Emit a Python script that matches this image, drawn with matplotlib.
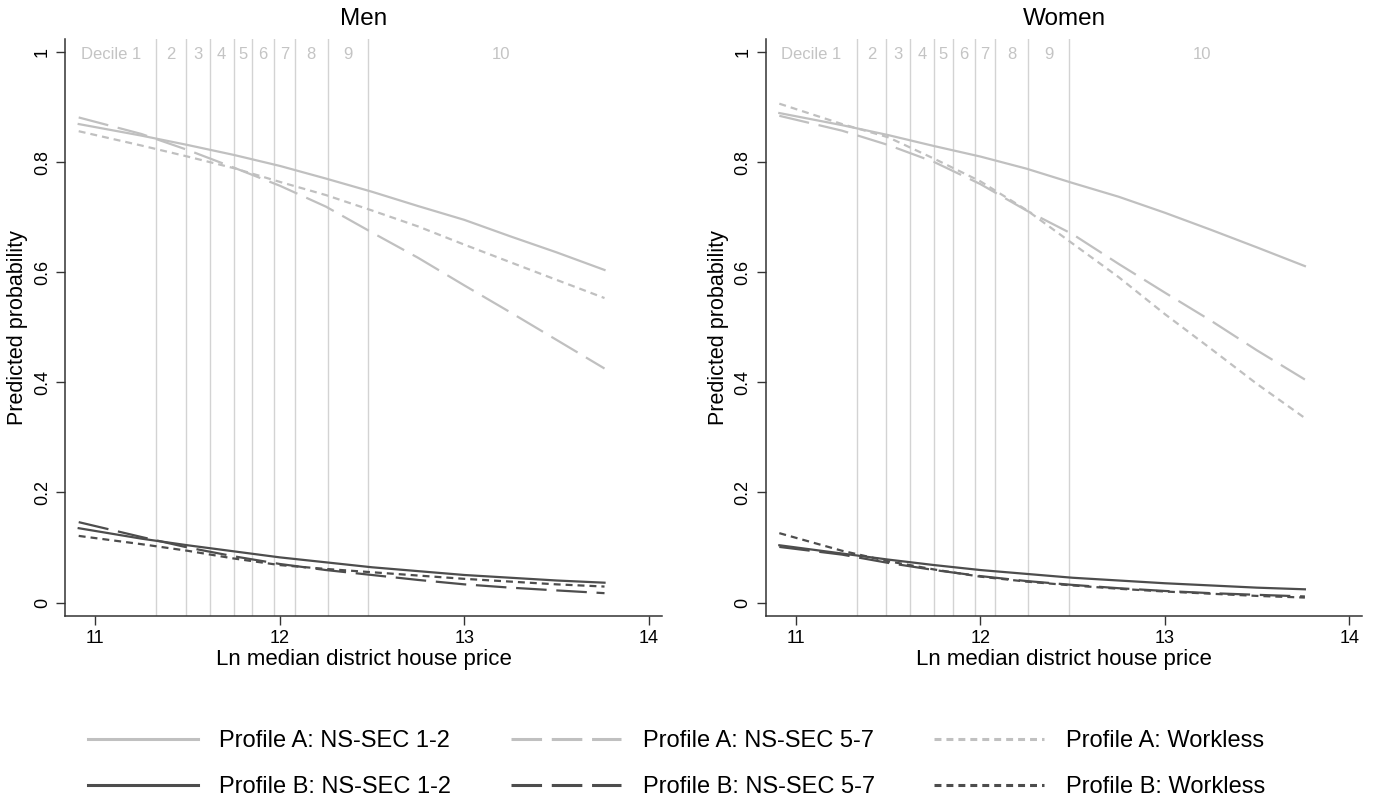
import matplotlib
matplotlib.use("Agg")
import matplotlib.pyplot as plt
from matplotlib.lines import Line2D

plt.rcParams['font.family'] = ['Liberation Sans', 'DejaVu Sans']
plt.rcParams['lines.scale_dashes'] = False

# ---- data ----
x_grid = [10.91, 11.25, 11.5, 11.75, 12.0, 12.25, 12.5, 12.75, 13.0, 13.25, 13.5, 13.76]

men_A_ns12 = [0.869, 0.848, 0.831, 0.813, 0.793, 0.770, 0.746, 0.720, 0.695, 0.665, 0.636, 0.604]
men_A_ns57 = [0.881, 0.851, 0.822, 0.790, 0.757, 0.719, 0.672, 0.626, 0.576, 0.527, 0.477, 0.425]
men_A_workless = [0.856, 0.830, 0.810, 0.789, 0.764, 0.740, 0.712, 0.683, 0.650, 0.618, 0.586, 0.553]
men_B_ns12 = [0.135, 0.116, 0.104, 0.093, 0.082, 0.073, 0.064, 0.057, 0.050, 0.045, 0.040, 0.036]
men_B_ns57 = [0.146, 0.119, 0.100, 0.084, 0.070, 0.059, 0.050, 0.041, 0.033, 0.027, 0.022, 0.017]
men_B_workless = [0.121, 0.106, 0.094, 0.080, 0.068, 0.061, 0.055, 0.049, 0.043, 0.038, 0.033, 0.029]

women_A_ns12 = [0.889, 0.867, 0.849, 0.829, 0.810, 0.788, 0.762, 0.737, 0.708, 0.677, 0.645, 0.611]
women_A_ns57 = [0.884, 0.857, 0.831, 0.800, 0.760, 0.712, 0.669, 0.615, 0.563, 0.512, 0.458, 0.405]
women_A_workless = [0.906, 0.869, 0.845, 0.806, 0.765, 0.713, 0.652, 0.591, 0.524, 0.461, 0.397, 0.335]
women_B_ns12 = [0.104, 0.089, 0.078, 0.068, 0.059, 0.052, 0.045, 0.040, 0.035, 0.031, 0.027, 0.024]
women_B_ns57 = [0.101, 0.087, 0.072, 0.059, 0.048, 0.039, 0.032, 0.026, 0.021, 0.017, 0.014, 0.011]
women_B_workless = [0.126, 0.094, 0.075, 0.060, 0.047, 0.038, 0.031, 0.025, 0.020, 0.016, 0.012, 0.009]

decile_bounds = [11.33, 11.49, 11.62, 11.75, 11.85, 11.97, 12.08, 12.26, 12.48]
decile_labels = ["Decile 1", "2", "3", "4", "5", "6", "7", "8", "9", "10"]
decile_label_x = [11.085, 11.41, 11.555, 11.685, 11.80, 11.91, 12.025, 12.17, 12.37, 13.20]

x_ticks = [11, 12, 13, 14]
y_ticks = [0, 0.2, 0.4, 0.6, 0.8, 1]
y_tick_labels = ["0", "0.2", "0.4", "0.6", "0.8", "1"]

legend_labels = ["Profile A: NS-SEC 1-2", "Profile B: NS-SEC 1-2",
                 "Profile A: NS-SEC 5-7", "Profile B: NS-SEC 5-7",
                 "Profile A: Workless", "Profile B: Workless"]

# ---- styles ----
LIGHT = "#c0c0c0"
DARK = "#4d4d4d"
LW = 1.6
LONG = (0, (22, 7))
SHORT = (0, (5, 3.6))

fig = plt.figure(figsize=(13.8, 7.98), dpi=100)
ax_m = fig.add_axes([0.0474, 0.2284, 0.4321, 0.7224])
ax_w = fig.add_axes([0.5551, 0.2284, 0.4319, 0.7224])

panels = [
    (ax_m, "Men", [men_A_ns12, men_A_ns57, men_A_workless], [men_B_ns12, men_B_ns57, men_B_workless]),
    (ax_w, "Women", [women_A_ns12, women_A_ns57, women_A_workless], [women_B_ns12, women_B_ns57, women_B_workless]),
]

styles = ['-', LONG, SHORT]

for ax, title, A, B in panels:
    for xb in decile_bounds:
        ax.axvline(xb, color="#d3d3d3", lw=1.0, zorder=1)
    for lab, lx in zip(decile_labels, decile_label_x):
        ax.text(lx, 0.995, lab, color="#c4c4c4", fontsize=12, ha="center", va="center", zorder=2)
    for ser, st in zip(A, styles):
        ax.plot(x_grid, ser, color=LIGHT, lw=LW, linestyle=st, zorder=3)
    for ser, st in zip(B, styles):
        ax.plot(x_grid, ser, color=DARK, lw=LW, linestyle=st, zorder=3)
    ax.set_xlim(10.838, 14.07)
    ax.set_ylim(-0.024, 1.023)
    ax.set_xticks(x_ticks)
    ax.set_xticklabels([str(t) for t in x_ticks])
    ax.set_yticks(y_ticks)
    ax.set_yticklabels(y_tick_labels, rotation=90, va="center")
    ax.spines['top'].set_visible(False)
    ax.spines['right'].set_visible(False)
    for s in ['left', 'bottom']:
        ax.spines[s].set_color("#333333")
        ax.spines[s].set_linewidth(1.1)
    ax.tick_params(axis='both', length=6.5, width=1.0, color="#333333", labelsize=13, pad=4)
    ax.set_xlabel("Ln median district house price", fontsize=16, labelpad=1)
    ax.set_ylabel("Predicted probability", fontsize=15.5, labelpad=4)
    ax.set_title(title, fontsize=17.5, pad=10)

handles = [
    Line2D([], [], color=LIGHT, lw=2.2, linestyle='-'),
    Line2D([], [], color=DARK, lw=2.2, linestyle='-'),
    Line2D([], [], color=LIGHT, lw=2.2, linestyle=LONG),
    Line2D([], [], color=DARK, lw=2.2, linestyle=LONG),
    Line2D([], [], color=LIGHT, lw=2.2, linestyle=SHORT),
    Line2D([], [], color=DARK, lw=2.2, linestyle=SHORT),
]
fig.legend(handles, legend_labels, ncol=3, loc="center", bbox_to_anchor=(0.490, 0.0425),
           frameon=False, fontsize=17, handlelength=4.66, handletextpad=0.93,
           columnspacing=2.5, labelspacing=1.0, borderpad=0.2)

fig.savefig("out.png", dpi=100)
